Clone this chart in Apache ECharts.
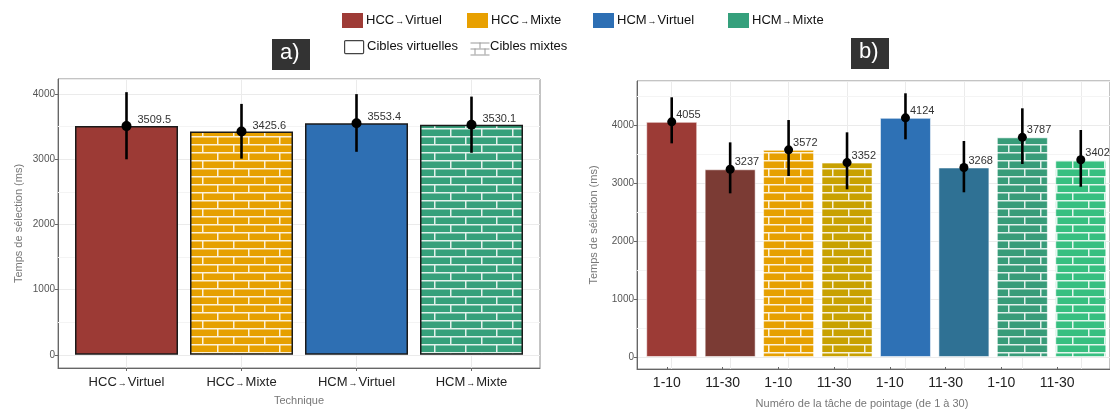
<!DOCTYPE html>
<html><head><meta charset="utf-8">
<script src="https://cdn.jsdelivr.net/npm/echarts@6/dist/echarts.min.js"></script>
<style>html,body{margin:0;padding:0;background:#fff}#c{width:1110px;height:414px}</style>
</head><body><div id="c"></div>
<script>
// ---- data ----
const techniques = ['HCC→Virtuel', 'HCC→Mixte', 'HCM→Virtuel', 'HCM→Mixte'];
const meanA = [3509.5, 3425.6, 3553.4, 3530.1];
const lowA  = [3000, 3010, 3115, 3100];
const highA = [4030, 3850, 4000, 3962];
const taskCats = ['1-10', '11-30', '1-10', '11-30', '1-10', '11-30', '1-10', '11-30'];
const meanB = [4055, 3237, 3572, 3352, 4124, 3268, 3787, 3402];
const lowB  = [3684, 2822, 3121, 2891, 3753, 2840, 3328, 2936];
const highB = [4478, 3701, 4086, 3874, 4547, 3724, 4288, 3914];
const minorTicks = [500, 1500, 2500, 3500, 4500];
const targetTypes = ['Cibles virtuelles', 'Cibles mixtes'];
const panelNames = ['a)', 'b)'];
const yName = 'Temps de sélection (ms)';
const xNameA = 'Technique';
const xNameB = 'Numéro de la tâche de pointage (de 1 à 30)';

// ---- styles ----
const techColors = ['#9e3b36', '#e8a000', '#2d6fb4', '#35a07c'];
const colorsA = ['#9c3a35', '#e6a000', '#2e6fb3', '#36a07b'];
const brickA = [false, true, false, true];
const colorsB = ['#9c3b36', '#7b3b34', '#e6a000', '#c8a100', '#2e71b5', '#2f7194', '#389c79', '#37bf80'];
const brickB = [false, false, true, true, false, false, true, true];

function brick(bg, w, h) {
  const c = document.createElement('canvas');
  c.width = w; c.height = h * 2;
  const g = c.getContext('2d');
  g.fillStyle = bg; g.fillRect(0, 0, w, h * 2);
  g.strokeStyle = 'rgba(255,255,255,0.85)';
  g.lineWidth = 1.5;
  g.beginPath();
  g.moveTo(0, 0.75); g.lineTo(w, 0.75);
  g.moveTo(0, h + 0.75); g.lineTo(w, h + 0.75);
  const m = Math.round(w / 2) + 0.75;
  g.moveTo(m, 0); g.lineTo(m, h);
  g.moveTo(0.75, h); g.lineTo(0.75, 2 * h);
  g.stroke();
  return c;
}
function fill(color, isBrick, w, h) {
  return isBrick ? { image: brick(color, w, h), repeat: 'repeat' } : color;
}

const A = { min: -202, max: 4232, top: 79, height: 289 };
const B = { min: -207, max: 4759, top: 81, height: 288 };
const gridLine = '#ebebeb';
const minorLine = '#f4f4f4';
const arrowRich = { a: { fontSize: 9, color: '#222', padding: [3, 1, 0, 1] } };

function frameY(gi, r) {
  return {
    gridIndex: gi, type: 'value', min: r.min, max: r.max, name: yName, nameLocation: 'middle',
    nameGap: gi === 0 ? 34 : 38, nameTextStyle: { color: '#777', fontSize: 11 },
    axisLine: { show: true, onZero: false, lineStyle: { color: '#666' } },
    axisTick: { show: true, length: 3, lineStyle: { color: '#666' } },
    axisLabel: { color: '#555', fontSize: 10, margin: 3, showMinLabel: false, showMaxLabel: false, formatter: v => String(v) },
    splitLine: { show: true, lineStyle: { color: gridLine } }
  };
}
function frameX(gi) {
  return {
    gridIndex: gi, type: 'value', min: 0, max: 1,
    axisLine: { show: true, onZero: false, lineStyle: { color: '#666' } },
    axisTick: { show: false }, axisLabel: { show: false }, splitLine: { show: false }
  };
}
function hiddenY(gi, r) {
  return { gridIndex: gi, type: 'value', min: r.min, max: r.max, show: false };
}

const idxB = taskCats.map((t, i) => String(i));

function minorSeries(ai, r) {
  return { type: 'scatter', xAxisIndex: ai, yAxisIndex: ai, data: [], z: 1, silent: true,
    markLine: { z: 1, silent: true, symbol: 'none', label: { show: false }, emphasis: { disabled: true },
      lineStyle: { color: minorLine, type: 'solid', width: 1 },
      data: minorTicks.filter(v => v < r.max).map(v => ({ yAxis: v })) } };
}
function errSeries(ai, lo, hi) {
  return { type: 'custom', xAxisIndex: ai, yAxisIndex: ai, z: 3,
    data: lo.map((v, i) => [i, lo[i], hi[i]]),
    renderItem: (p, api) => {
      const a = api.coord([api.value(0), api.value(1)]);
      const b = api.coord([api.value(0), api.value(2)]);
      return { type: 'line', shape: { x1: a[0], y1: a[1], x2: b[0], y2: b[1] }, style: { stroke: '#000', lineWidth: 2.6 } };
    } };
}

const option = {
  animation: false,
  textStyle: { fontFamily: 'Liberation Sans, Arial, sans-serif' },
  grid: [
    { left: 58, top: A.top, width: 482, height: A.height, show: true, borderColor: '#888', borderWidth: 1, backgroundColor: 'transparent' },
    { left: 69, top: A.top, width: 460, height: A.height },
    { left: 637, top: B.top, width: 480, height: B.height, show: true, borderColor: '#888', borderWidth: 1, backgroundColor: 'transparent' },
    { left: 642.5, top: B.top, width: 471, height: B.height },
    { left: 639, top: B.top, width: 446, height: B.height }
  ],
  xAxis: [
    frameX(0),
    {
      gridIndex: 1, type: 'category', data: techniques, name: xNameA, nameLocation: 'middle', nameGap: 27,
      nameTextStyle: { color: '#777', fontSize: 11 },
      axisLine: { show: false, onZero: false },
      axisTick: { show: true, alignWithLabel: true, length: 3, lineStyle: { color: '#666' } },
      axisLabel: { interval: 0, color: '#222', fontSize: 13, margin: 8, formatter: v => v.replace('→', '{a|→}'), rich: arrowRich },
      splitLine: { show: true, interval: 0, alignWithLabel: true, lineStyle: { color: gridLine } }
    },
    frameX(2),
    {
      gridIndex: 3, type: 'category', data: idxB,
      axisLine: { show: false, onZero: false }, axisTick: { show: false }, axisLabel: { show: false },
      splitLine: { show: true, interval: 0, alignWithLabel: true, lineStyle: { color: gridLine } }
    },
    {
      gridIndex: 4, type: 'category', data: idxB, name: xNameB, nameLocation: 'middle', nameGap: 31,
      nameTextStyle: { color: '#777', fontSize: 11 },
      axisLine: { show: false, onZero: false },
      axisTick: { show: true, interval: 0, alignWithLabel: true, length: 3, lineStyle: { color: '#666' } },
      axisLabel: { interval: 0, color: '#222', fontSize: 14, margin: 9, formatter: v => taskCats[+v] },
      splitLine: { show: false }
    }
  ],
  yAxis: [frameY(0, A), hiddenY(1, A), frameY(2, B), hiddenY(3, B), hiddenY(4, B)],
  series: [
    minorSeries(0, A),
    minorSeries(2, B),
    // panel a
    { type: 'bar', xAxisIndex: 1, yAxisIndex: 1, barWidth: 103, z: 2,
      data: meanA.map((v, i) => ({ value: v, itemStyle: { color: fill(colorsA[i], brickA[i], 31, 8), borderColor: '#1a1a1a', borderWidth: 1.5 } })) },
    errSeries(1, lowA, highA),
    { type: 'scatter', xAxisIndex: 1, yAxisIndex: 1, z: 4, symbolSize: 10, itemStyle: { color: '#000', opacity: 1 },
      data: meanA,
      label: { show: true, position: 'right', distance: 6, offset: [0, -6], color: '#333', fontSize: 11, formatter: p => String(p.value) } },
    // panel b
    { type: 'bar', xAxisIndex: 3, yAxisIndex: 3, barWidth: 51, z: 2,
      data: meanB.map((v, i) => ({ value: v, itemStyle: { color: fill(colorsB[i], brickB[i], 32, 8), borderColor: 'rgba(255,255,255,0.55)', borderWidth: 1 } })) },
    errSeries(3, lowB, highB),
    { type: 'scatter', xAxisIndex: 3, yAxisIndex: 3, z: 4, symbolSize: 9, itemStyle: { color: '#000', opacity: 1 },
      data: meanB,
      label: { show: true, position: 'right', distance: 0, offset: [0, -7], color: '#333', fontSize: 11, formatter: p => String(p.value) } }
  ],
  graphic: []
};

// legend (row 1: techniques)
const legX = [342, 467, 593, 728];
techniques.forEach((t, i) => {
  option.graphic.push({ type: 'rect', left: legX[i], top: 13, shape: { width: 21, height: 15 }, style: { fill: techColors[i] } });
  option.graphic.push({ type: 'text', left: legX[i] + 24, top: 14, style: { text: t.replace('→', '{a|→}'), fill: '#111', fontSize: 13, fontFamily: 'Liberation Sans', rich: arrowRich } });
});
// legend (row 2: target types)
option.graphic.push({ type: 'rect', left: 344, top: 40, shape: { width: 19, height: 13, r: 1 }, style: { fill: '#fff', stroke: '#444', lineWidth: 1.2 } });
option.graphic.push({ type: 'text', left: 367, top: 40, style: { text: targetTypes[0], fill: '#111', fontSize: 13, fontFamily: 'Liberation Sans' } });
option.graphic.push({ type: 'group', left: 468, top: 40, children: [
  { type: 'polyline', shape: { points: [[0, 0.5], [19, 0.5]] }, style: { stroke: '#999', lineWidth: 1 } },
  { type: 'polyline', shape: { points: [[0, 6.5], [19, 6.5]] }, style: { stroke: '#999', lineWidth: 1 } },
  { type: 'polyline', shape: { points: [[0, 12.5], [19, 12.5]] }, style: { stroke: '#999', lineWidth: 1 } },
  { type: 'polyline', shape: { points: [[9.5, 0], [9.5, 6]] }, style: { stroke: '#999', lineWidth: 1 } },
  { type: 'polyline', shape: { points: [[4.5, 6], [4.5, 12]] }, style: { stroke: '#999', lineWidth: 1 } },
  { type: 'polyline', shape: { points: [[14.5, 6], [14.5, 12]] }, style: { stroke: '#999', lineWidth: 1 } }
] });
option.graphic.push({ type: 'text', left: 490, top: 40, style: { text: targetTypes[1], fill: '#111', fontSize: 13, fontFamily: 'Liberation Sans' } });
// panel labels
[[272, 39], [851, 38]].forEach((pos, i) => {
  option.graphic.push({ type: 'rect', left: pos[0], top: pos[1], shape: { width: 38, height: 31 }, style: { fill: '#333' } });
  option.graphic.push({ type: 'text', left: pos[0] + 8, top: pos[1] + 3, style: { text: panelNames[i], fill: '#fff', fontSize: 22, fontFamily: 'Liberation Sans' } });
});

const chart = echarts.init(document.getElementById('c'), null, { renderer: 'canvas' });
chart.setOption(option);
</script>
</body></html>
